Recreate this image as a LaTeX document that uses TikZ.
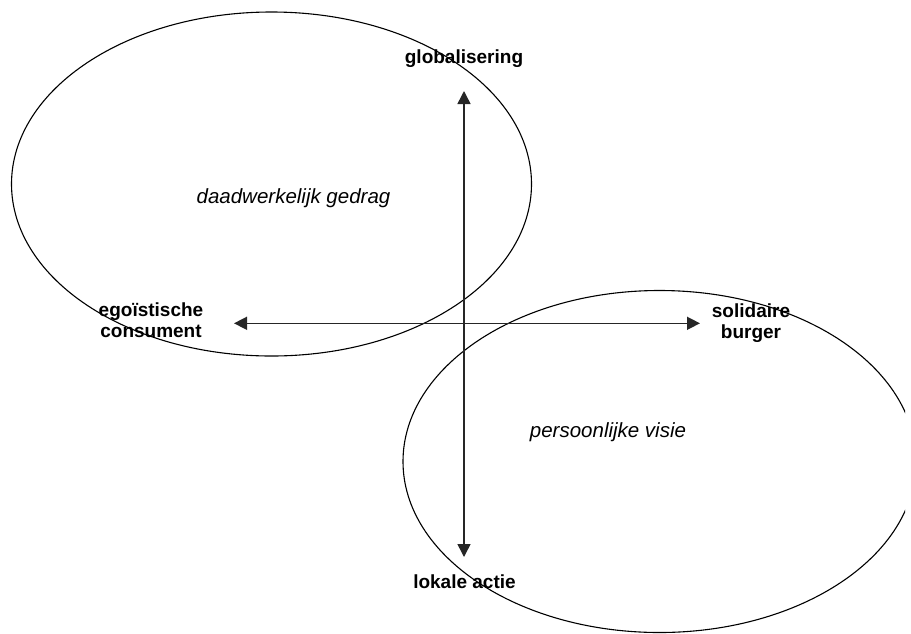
\documentclass[tikz,border=0pt]{standalone}
\usepackage{fontspec}
\setmainfont{Liberation Sans}
\usetikzlibrary{arrows.meta}
\newcommand{\myaxisgray}{black!85}

\tikzset{
  axislabel/.style = {font=\fontsize{19}{21}\selectfont\bfseries, align=center, inner sep=0pt},
  fieldlabel/.style = {font=\fontsize{20.5}{24}\selectfont\itshape, inner sep=0pt},
  axisarrow/.style = {line width=1.5pt, \myaxisgray, {Triangle[length=13pt,width=13pt]}-{Triangle[length=13pt,width=13pt]}}
}

\begin{document}
\begin{tikzpicture}[x=1pt, y=-1pt]
\useasboundingbox (0,0) rectangle (911,633);
\begin{scope}
\clip (0,0) rectangle (905,634);
\draw[line width=1.1pt] (271.5,184) ellipse [x radius=260pt, y radius=172pt];
\draw[line width=1.1pt] (659.5,461.5) ellipse [x radius=256.5pt, y radius=171pt];
\end{scope}
\coordinate (uptip) at (464,91);
\coordinate (downtip) at (464,557);
\coordinate (lefttip) at (234,323.3);
\coordinate (righttip) at (700,323.3);
\draw[axisarrow] (downtip) -- (uptip);
\draw[axisarrow] (lefttip) -- (righttip);
\node[axislabel, anchor=base] (glob) at (464,63) {globalisering};
\node[axislabel, anchor=base] (lokaal) at (464.5,588) {lokale actie};
\node[axislabel] (egoist) at (151,320) {ego\"istische\\consument};
\node[axislabel] (solidair) at (751,323) {solidaire\\burger};
\node[fieldlabel, anchor=base] (gedrag) at (293.5,203) {daadwerkelijk gedrag};
\node[fieldlabel, anchor=base] (visie) at (608,437) {persoonlijke visie};
\end{tikzpicture}
\end{document}
